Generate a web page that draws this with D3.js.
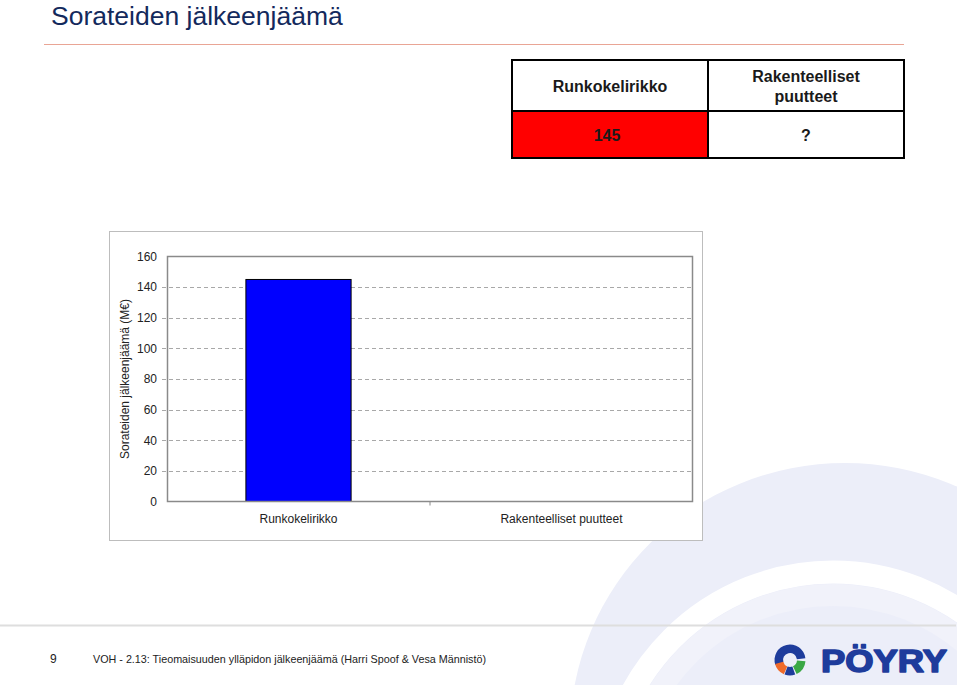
<!DOCTYPE html>
<html><head><meta charset="utf-8">
<script src="https://cdn.jsdelivr.net/npm/d3@7/dist/d3.min.js"></script>
<style>body{margin:0;background:#fff}svg{display:block;font-family:"Liberation Sans",Arial,sans-serif}</style>
</head><body><svg id="c" width="960" height="685"></svg>
<script>
const pageTitle = "Sorateiden jälkeenjäämä";
const categories = ["Runkokelirikko", "Rakenteelliset puutteet"];
const tableHeaders = [["Runkokelirikko"], ["Rakenteelliset", "puutteet"]];
const values = [145, null];
const yTicks = [0, 20, 40, 60, 80, 100, 120, 140, 160];
const yTitle = "Sorateiden jälkeenjäämä (M€)";
const footerPage = "9";
const footerText = "VOH - 2.13: Tieomaisuuden ylläpidon jälkeenjäämä (Harri Spoof & Vesa Männistö)";

const svg = d3.select("#c");

// background swooshes
const defs = svg.append("defs");
defs.append("clipPath").attr("id", "bgclip").append("rect").attr("x", 0).attr("y", 0).attr("width", 957).attr("height", 685);
const bg = svg.append("g").attr("clip-path", "url(#bgclip)");
bg.append("ellipse").attr("cx", 845).attr("cy", 735).attr("rx", 275).attr("ry", 272).attr("fill", "#eceef9");
bg.append("circle").attr("cx", 833).attr("cy", 800).attr("r", 228).attr("fill", "none").attr("stroke", "#fff").attr("stroke-width", 23);
bg.append("circle").attr("cx", 833).attr("cy", 800).attr("r", 205).attr("fill", "none").attr("stroke", "#f1f2fa").attr("stroke-width", 22);

// title
svg.append("text").attr("x", 51).attr("y", 25).attr("font-size", 26.5).attr("fill", "#13295c").text(pageTitle);
svg.append("line").attr("x1", 44).attr("x2", 904).attr("y1", 44.5).attr("y2", 44.5).attr("stroke", "#e9a595").attr("stroke-width", 1);

// table
const tx = [512, 708, 904], ty = [60, 111, 158];
const tg = svg.append("g");
tg.append("rect").attr("x", tx[0]).attr("y", ty[1]).attr("width", tx[1] - tx[0]).attr("height", ty[2] - ty[1]).attr("fill", "#ff0000");
tg.append("rect").attr("x", tx[0]).attr("y", ty[0]).attr("width", tx[2] - tx[0]).attr("height", ty[2] - ty[0]).attr("fill", "none").attr("stroke", "#000").attr("stroke-width", 2);
tg.append("line").attr("x1", tx[1]).attr("x2", tx[1]).attr("y1", ty[0]).attr("y2", ty[2]).attr("stroke", "#000").attr("stroke-width", 2);
tg.append("line").attr("x1", tx[0]).attr("x2", tx[2]).attr("y1", ty[1]).attr("y2", ty[1]).attr("stroke", "#000").attr("stroke-width", 2);
tableHeaders.forEach((lines, i) => {
  const cx = (tx[i] + tx[i + 1]) / 2;
  const y0 = lines.length === 1 ? 92 : 82;
  lines.forEach((l, j) => tg.append("text").attr("x", cx).attr("y", y0 + j * 20).attr("text-anchor", "middle")
    .attr("font-size", 16).attr("font-weight", "bold").attr("fill", "#1a1a1a").text(l));
  tg.append("text").attr("x", cx - (i === 0 ? 3 : 0)).attr("y", 141).attr("text-anchor", "middle")
    .attr("font-size", 16).attr("font-weight", "bold").attr("fill", "#1a1a1a").text(values[i] == null ? "?" : values[i]);
});

// chart box
svg.append("rect").attr("x", 109.5).attr("y", 231.5).attr("width", 593).attr("height", 309).attr("fill", "#fff").attr("stroke", "#bdbdbd");

const L = 167, R = 693, T = 256.5, B = 501.5;
const y = d3.scaleLinear().domain([0, 160]).range([B, T]);
const x = d3.scaleBand().domain(categories).range([L, R]).paddingInner(0.6).paddingOuter(0.3);
const xs = d3.scaleBand().domain(categories).range([L, R]);

const g = svg.append("g");
// gridlines
g.selectAll("line.grid").data(yTicks.filter(t => t > 0 && t < 160)).join("line")
  .attr("x1", L - 5).attr("x2", R).attr("y1", d => Math.round(y(d)) + 0.5).attr("y2", d => Math.round(y(d)) + 0.5)
  .attr("stroke", "#a8a8a8").attr("stroke-dasharray", "4,3");
// bars
g.selectAll("rect.bar").data(categories.map((c, i) => ({ c, v: values[i] })).filter(d => d.v != null)).join("rect")
  .attr("x", d => x(d.c)).attr("y", d => y(d.v)).attr("width", x.bandwidth()).attr("height", d => B - y(d.v))
  .attr("fill", "#0000ff").attr("stroke", "#000").attr("stroke-width", 1);
// frame
g.append("rect").attr("x", L + 0.5).attr("y", T).attr("width", R - L - 1).attr("height", B - T).attr("fill", "none").attr("stroke", "#8a8a8a").attr("stroke-width", 1.5);

// y axis
const ya = g.append("g").attr("transform", `translate(${L - 10},0)`)
  .call(d3.axisLeft(y).tickValues(yTicks).tickSize(0).tickPadding(0));
ya.select(".domain").remove();
ya.selectAll("text").attr("font-size", 12).attr("fill", "#222").attr("font-family", "Liberation Sans, Arial, sans-serif");

// x axis
const xa = g.append("g").attr("transform", `translate(0,${B})`)
  .call(d3.axisBottom(xs).tickSize(0).tickPadding(13));
xa.select(".domain").remove();
xa.selectAll("text").attr("font-size", 12).attr("fill", "#222").attr("font-family", "Liberation Sans, Arial, sans-serif");
g.append("line").attr("x1", xs(categories[1])).attr("x2", xs(categories[1])).attr("y1", B).attr("y2", B + 4).attr("stroke", "#8a8a8a");

// y title
svg.append("text").attr("transform", "translate(129,379) rotate(-90)").attr("text-anchor", "middle")
  .attr("font-size", 12).attr("fill", "#222").text(yTitle);

// footer
svg.append("line").attr("x1", 0).attr("x2", 956).attr("y1", 625.5).attr("y2", 625.5).attr("stroke", "#dedede").attr("stroke-width", 2);
svg.append("text").attr("x", 50).attr("y", 663).attr("font-size", 12).attr("fill", "#222").text(footerPage);
svg.append("text").attr("x", 93).attr("y", 663).attr("font-size", 11.5).attr("fill", "#222")
  .attr("textLength", 393).attr("lengthAdjust", "spacingAndGlyphs").text(footerText);

// logo
const lg = svg.append("g").attr("transform", "translate(790,660)");
const arc = d3.arc().innerRadius(7).outerRadius(15.5);
lg.append("path").attr("d", arc({ startAngle: -1.9, endAngle: 1.45 })).attr("fill", "#1e3c9c");
lg.append("path").attr("d", arc({ startAngle: 3.55, endAngle: 4.45 })).attr("fill", "#ef6a2a");
lg.append("path").attr("d", arc({ startAngle: 1.65, endAngle: 2.7 })).attr("fill", "#3aa845");
lg.append("path").attr("d", arc({ startAngle: 2.8, endAngle: 3.5 })).attr("fill", "#1e3c9c");
svg.append("text").attr("x", 821).attr("y", 672).attr("font-size", 32).attr("font-weight", "bold")
  .attr("font-family", "Liberation Sans, Arial, sans-serif").attr("fill", "#1e3c9c")
  .attr("stroke", "#1e3c9c").attr("stroke-width", 1.6).attr("stroke-linejoin", "round")
  .attr("textLength", 126).attr("lengthAdjust", "spacingAndGlyphs").text("PÖYRY");
</script></body></html>
